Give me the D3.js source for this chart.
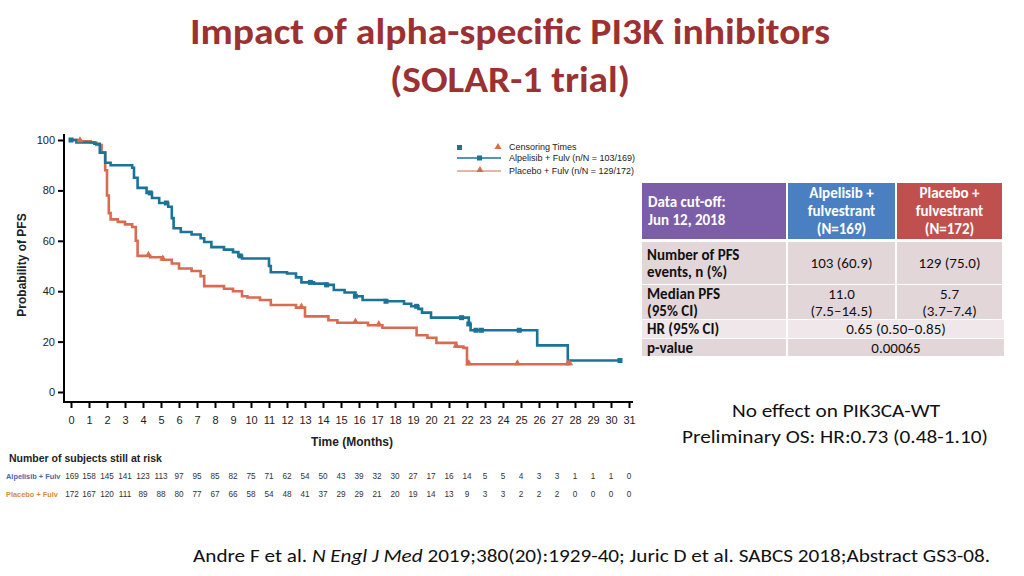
<!DOCTYPE html>
<html><head><meta charset="utf-8">
<script src="https://cdn.jsdelivr.net/npm/d3@7"></script>
<style>body{margin:0;background:#fff}svg{display:block}</style>
</head><body>
<svg id="c" width="1024" height="576"></svg>
<script>
// ---- Data ----
const xTicks = d3.range(0, 32);
const yTicks = [0, 20, 40, 60, 80, 100];
// Kaplan-Meier step points [month, % PFS] (value after step)
const alpelisibSteps = [[0,100],[0.3,99],[1.3,98.5],[1.6,95],[1.9,91],[2.2,90],[3.4,89],[3.5,85],[3.7,81],[4.2,79],[4.5,77],[4.9,75],[5.4,73.5],[5.6,69],[5.7,65],[6.1,63.5],[6.7,62.5],[7.2,61],[7.4,59.5],[7.8,57.5],[8.5,56.5],[9.0,55.5],[9.3,54],[9.5,53],[11.0,50],[11.1,47.5],[12.0,47],[12.5,45.5],[12.8,43.5],[13.5,43],[14.2,42.5],[14.6,40.5],[15.2,39.5],[15.8,38],[16.2,36.5],[17.5,36],[18.5,35],[18.9,34],[19.3,33],[19.5,31.5],[20.0,29.5],[22.1,27],[22.2,24.5],[25.9,18.5],[27.6,12.5],[30.5,12.5]];
const placeboSteps = [[0,100],[0.5,99.5],[1.1,99],[1.4,98],[1.7,95],[1.9,88],[2.0,78],[2.1,71],[2.2,68.5],[2.6,67.5],[3.0,66.5],[3.4,65.5],[3.6,60],[3.7,54],[4.4,53.5],[5.1,52.5],[5.6,51],[6.0,49],[6.7,48],[7.2,46],[7.4,42],[8.5,41],[9.0,40],[9.5,38],[9.8,37.5],[10.5,36.5],[11.1,34.5],[12.5,33.5],[13.0,30],[14.3,28.5],[14.8,27.5],[16.5,26.5],[17.3,25.5],[19.2,22.5],[19.8,21.5],[20.3,19.5],[21.4,18],[21.8,17.5],[22.0,11],[27.7,11]];
const alpelisibCensor = [0, 4.4, 5.3, 9.4, 13.3, 14.2, 15.8, 17.5, 19.2, 21.7, 22.1, 22.5, 22.8, 24.9, 30.5];
const placeboCensor = [0.5, 4.3, 5.1, 12.8, 15.8, 17.1, 21.4, 22.1, 24.8, 27.6, 27.7];
const atRiskAlpelisib = [169,158,145,141,123,113,97,95,85,82,75,71,62,54,50,43,39,32,30,27,17,16,14,5,5,4,3,3,1,1,1,0];
const atRiskPlacebo = [172,167,120,111,89,88,80,77,67,66,58,54,48,41,37,29,29,21,20,19,14,13,9,3,3,2,2,2,0,0,0,0];
const tableHeader = ["Data cut-off:|Jun 12, 2018", "Alpelisib +|fulvestrant|(N=169)", "Placebo +|fulvestrant|(N=172)"];
const tableRows = [
  ["Number of PFS|events, n (%)", "103 (60.9)", "129 (75.0)"],
  ["Median PFS|(95% CI)", "11.0|(7.5–14.5)", "5.7|(3.7–7.4)"],
  ["HR (95% CI)", "0.65 (0.50–0.85)"],
  ["p-value", "0.00065"]
];

// ---- Drawing ----
const svg = d3.select("#c");
const BLUE = "#1b7397", RED = "#d96c50";
const x = d3.scaleLinear().domain([0, 31]).range([71, 629]);
const y = d3.scaleLinear().domain([0, 100]).range([392, 140]);

// Title
const tf = "Carlito, Calibri, Lato, 'Open Sans', sans-serif";
svg.append("text").attr("x", 510).attr("y", 44).attr("text-anchor", "middle")
  .attr("font-family", tf).attr("font-weight", "bold").attr("font-size", 36).attr("fill", "#9b3133")
  .attr("textLength", 640).attr("lengthAdjust", "spacingAndGlyphs")
  .text("Impact of alpha-specific PI3K inhibitors");
svg.append("text").attr("x", 510).attr("y", 92).attr("text-anchor", "middle")
  .attr("font-family", tf).attr("font-weight", "bold").attr("font-size", 36).attr("fill", "#9b3133")
  .attr("textLength", 240).attr("lengthAdjust", "spacingAndGlyphs")
  .text("(SOLAR-1 trial)");

// Axes
const af = "Liberation Sans, Arial, sans-serif";
const yAxis = svg.append("g").attr("transform", "translate(64,0)")
  .call(d3.axisLeft(y).tickValues(yTicks).tickSize(6).tickPadding(3));
yAxis.select(".domain").attr("d", "M0,134V402").attr("stroke-width", 2);
const xAxis = svg.append("g").attr("transform", "translate(0,402)")
  .call(d3.axisBottom(x).tickValues(xTicks).tickSize(6).tickPadding(8));
xAxis.select(".domain").attr("d", "M63,0H633").attr("stroke-width", 2);
[yAxis, xAxis].forEach(a => {
  a.selectAll(".tick line").attr("stroke-width", 2);
  a.selectAll("text").attr("font-family", af).attr("font-size", 11).attr("fill", "#222");
});
svg.append("text").attr("x", 352).attr("y", 446).attr("text-anchor", "middle")
  .attr("font-family", af).attr("font-weight", "bold").attr("font-size", 12).attr("fill", "#222")
  .text("Time (Months)");
svg.append("text").attr("transform", "translate(26,265) rotate(-90)").attr("text-anchor", "middle")
  .attr("font-family", af).attr("font-weight", "bold").attr("font-size", 12).attr("fill", "#222")
  .text("Probability of PFS");

// Curves
const line = d3.line().x(d => x(d[0])).y(d => y(d[1])).curve(d3.curveStepAfter);
function stepVal(steps, t) { let v = steps[0][1]; for (const s of steps) { if (s[0] <= t) v = s[1]; } return v; }
svg.append("path").datum(placeboSteps).attr("d", line).attr("fill", "none").attr("stroke", RED).attr("stroke-width", 2.6);
svg.append("path").datum(alpelisibSteps).attr("d", line).attr("fill", "none").attr("stroke", BLUE).attr("stroke-width", 2.6);
svg.selectAll(".cb").data(alpelisibCensor).join("rect")
  .attr("x", d => x(d) - 2.5).attr("y", d => y(stepVal(alpelisibSteps, d)) - 2.5).attr("width", 5).attr("height", 5).attr("fill", BLUE);
const tri = d3.symbol().type(d3.symbolTriangle).size(22);
svg.selectAll(".cr").data(placeboCensor).join("path")
  .attr("d", tri).attr("transform", d => `translate(${x(d)},${y(stepVal(placeboSteps, d)) - 1})`).attr("fill", RED);

// Legend
const lg = svg.append("g").attr("font-family", af).attr("font-size", 9).attr("fill", "#222");
lg.append("rect").attr("x", 457).attr("y", 145).attr("width", 5).attr("height", 5).attr("fill", BLUE);
lg.append("path").attr("d", d3.symbol().type(d3.symbolTriangle).size(22)).attr("transform", "translate(498,147)").attr("fill", RED);
lg.append("text").attr("x", 509).attr("y", 150).text("Censoring Times");
lg.append("line").attr("x1", 457).attr("x2", 501).attr("y1", 158).attr("y2", 158).attr("stroke", BLUE).attr("stroke-width", 1.3);
lg.append("rect").attr("x", 477).attr("y", 155.5).attr("width", 5).attr("height", 5).attr("fill", BLUE);
lg.append("text").attr("x", 509).attr("y", 161).text("Alpelisib + Fulv (n/N = 103/169)");
lg.append("line").attr("x1", 457).attr("x2", 501).attr("y1", 171).attr("y2", 171).attr("stroke", "#d9a08f").attr("stroke-width", 1.3);
lg.append("path").attr("d", d3.symbol().type(d3.symbolTriangle).size(22)).attr("transform", "translate(480,170)").attr("fill", RED);
lg.append("text").attr("x", 509).attr("y", 174).text("Placebo + Fulv (n/N = 129/172)");

// At-risk table
svg.append("text").attr("x", 9).attr("y", 462).attr("font-family", af).attr("font-weight", "bold").attr("font-size", 10.5).attr("fill", "#222")
  .text("Number of subjects still at risk");
svg.append("text").attr("x", 6).attr("y", 479).attr("font-family", af).attr("font-size", 7.4).attr("font-weight", "bold").attr("fill", "#4a66b0")
  .text("Alpelisib + Fulv");
svg.append("text").attr("x", 6).attr("y", 497).attr("font-family", af).attr("font-size", 7.4).attr("font-weight", "bold").attr("fill", "#d98a3e")
  .text("Placebo + Fulv");
[[atRiskAlpelisib, 479], [atRiskPlacebo, 497]].forEach(([arr, yy]) => {
  svg.selectAll(null).data(arr).join("text")
    .attr("x", (d, i) => x(xTicks[i]) + (i === 0 ? 1 : 0)).attr("y", yy).attr("text-anchor", "middle")
    .attr("font-family", af).attr("font-size", 8.2).attr("fill", "#333").text(d => d);
});

// Summary table
const cf = "Carlito, Calibri, Lato, 'Open Sans', sans-serif";
const colX = [642, 788, 897, 1004];
const tg = svg.append("g").attr("font-family", cf);
const hdrFill = ["#7b5ea7", "#4a7fc1", "#c0504d"];
tableHeader.forEach((h, i) => {
  tg.append("rect").attr("x", colX[i]).attr("y", 183).attr("width", colX[i + 1] - colX[i] - 2).attr("height", 56).attr("fill", hdrFill[i]);
  const lines = h.split("|");
  const cx = i === 0 ? colX[0] + 6 : (colX[i] + colX[i + 1] - 2) / 2;
  const t = tg.append("text").attr("fill", "#fff").attr("font-weight", "bold").attr("font-size", 15).attr("text-anchor", i === 0 ? "start" : "middle");
  const y0 = 211 - (lines.length - 1) * 9 + 5;
  lines.forEach((l, k) => t.append("tspan").attr("x", cx).attr("y", y0 + k * 18).text(l));
});
const bodyRows = [[242, 284, "#e3d6d9"], [285, 319, "#e3d6d9"], [320, 338, "#efe7e9"], [339, 356, "#e3d6d9"]];
tableRows.forEach((r, ri) => {
  const [t0, t1, fill] = bodyRows[ri];
  const mid = (t0 + t1) / 2;
  if (r.length === 3) {
    for (let c = 0; c < 3; c++) tg.append("rect").attr("x", colX[c]).attr("y", t0).attr("width", colX[c + 1] - colX[c] - 2).attr("height", t1 - t0).attr("fill", fill);
  } else {
    tg.append("rect").attr("x", colX[0]).attr("y", t0).attr("width", colX[1] - colX[0] - 2).attr("height", t1 - t0).attr("fill", fill);
    tg.append("rect").attr("x", colX[1]).attr("y", t0).attr("width", colX[3] - colX[1]).attr("height", t1 - t0).attr("fill", fill);
  }
  r.forEach((cell, c) => {
    const lines = cell.split("|");
    let cx, anchor = "middle";
    if (c === 0) { cx = colX[0] + 5; anchor = "start"; }
    else if (r.length === 3) cx = (colX[c] + colX[c + 1] - 2) / 2;
    else cx = (colX[1] + colX[3]) / 2;
    const t = tg.append("text").attr("fill", "#111").attr("text-anchor", anchor)
      .attr("font-size", 15).attr("font-weight", c === 0 ? "bold" : "normal");
    const y0 = mid + 5 - (lines.length - 1) * 8.5;
    lines.forEach((l, k) => t.append("tspan").attr("x", cx).attr("y", y0 + k * 17).text(l));
  });
});

// Notes
svg.append("text").attr("x", 836).attr("y", 417).attr("text-anchor", "middle").attr("font-family", cf).attr("font-size", 19).attr("fill", "#111")
  .attr("textLength", 208).attr("lengthAdjust", "spacingAndGlyphs").text("No effect on PIK3CA-WT");
svg.append("text").attr("x", 835).attr("y", 443).attr("text-anchor", "middle").attr("font-family", cf).attr("font-size", 19).attr("fill", "#111")
  .attr("textLength", 306).attr("lengthAdjust", "spacingAndGlyphs").text("Preliminary OS: HR:0.73 (0.48-1.10)");
const cit = svg.append("text").attr("x", 193).attr("y", 562).attr("font-family", cf).attr("font-size", 19).attr("fill", "#111")
  .attr("textLength", 797).attr("lengthAdjust", "spacingAndGlyphs");
cit.append("tspan").text("Andre F et al. ");
cit.append("tspan").attr("font-style", "italic").text("N Engl J Med");
cit.append("tspan").text(" 2019;380(20):1929-40; Juric D et al. SABCS 2018;Abstract GS3-08.");
</script>
</body></html>
